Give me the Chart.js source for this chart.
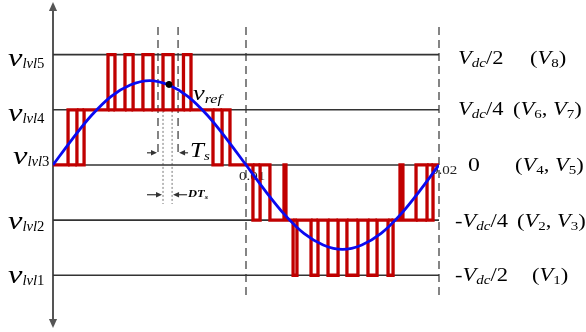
<!DOCTYPE html>
<html>
<head>
<meta charset="utf-8">
<script src="https://cdn.jsdelivr.net/npm/chart.js@4"></script>
<style>
  html, body { margin: 0; padding: 0; background: #fff; }
  #wrap { width: 586px; height: 332px; }
</style>
</head>
<body>
<div id="wrap"><canvas id="pwm" width="586" height="332"></canvas></div>
<script>
// voltage levels (in units of Vdc/4) and their labels
const levels = [-2, -1, 0, 1, 2];
const levelNames = ['1', '2', '3', '4', '5'];
const voltSign = ['-', '-', '', '', ''];
const voltDivisor = ['2', '4', '', '4', '2'];
const switchVectors = [[1], [2, 3], [4, 5], [6, 7], [8]];

// x axis ticks (s)
const xTickValues = [0.01, 0.02];
const xTickLabels = ['0.01', '0.02'];

// reference voltage v_ref
const vrefTime = [0, 0.001, 0.002, 0.003, 0.004, 0.005, 0.006, 0.007, 0.008, 0.009, 0.01,
                  0.011, 0.012, 0.013, 0.014, 0.015, 0.016, 0.017, 0.018, 0.019, 0.02];
const vrefValue = [0, 0.47, 0.90, 1.24, 1.45, 1.53, 1.45, 1.24, 0.90, 0.47, 0,
                   -0.47, -0.90, -1.24, -1.45, -1.53, -1.45, -1.24, -0.90, -0.47, 0];

// output voltage: switching instants and the level held after each one
const switchTimes = [0, 0.00078, 0.00124, 0.00161, 0.00285, 0.00321, 0.00373, 0.00415, 0.00466, 0.00518,
                     0.00570, 0.00622, 0.00676, 0.00715, 0.00829, 0.00876, 0.00917, 0.01036, 0.01073, 0.01124,
                     0.01197, 0.01207, 0.01244, 0.01264, 0.01337, 0.01373, 0.01425, 0.01477, 0.01523, 0.01580,
                     0.01632, 0.01679, 0.01736, 0.01762, 0.01798, 0.01813, 0.01881, 0.01938, 0.01969, 0.02];
const outputLevel = [0, 1, 0, 1, 2, 1, 2, 1, 2, 1,
                     2, 1, 2, 1, 0, 1, 0, -1, 0, -1,
                     0, -1, -2, -1, -2, -1, -2, -1, -2, -1,
                     -2, -1, -2, -1, 0, -1, 0, -1, 0];
// intervals drawn as closed boxes (edge at the previous level too)
const closedPulses = [1, 2, 4, 6, 8, 10, 12, 14, 17, 22, 24, 26, 28, 30, 32, 36, 37];

// switching period markers
const tsStart = 0.00544, tsEnd = 0.00648;
const dutyStart = 0.00570, dutyEnd = 0.00617;
const sampleTime = 0.00601, sampleValue = 1.46;

const RED = '#c00000';
const BLUE = '#0a0af0';
const FONT = '"Liberation Serif", "Times New Roman", serif';
const STRETCH = 1.25;

// step waveform points
const stepPts = [];
outputLevel.forEach((lv, i) => {
  stepPts.push({ x: switchTimes[i], y: lv });
  stepPts.push({ x: switchTimes[i + 1], y: lv });
});

// closing edges of the boxed pulses
const basePts = [];
closedPulses.forEach(i => {
  const base = outputLevel[i - 1];
  basePts.push({ x: switchTimes[i], y: base });
  basePts.push({ x: switchTimes[i + 1], y: base });
  basePts.push({ x: switchTimes[i + 1], y: null });
});

const levelSets = levels.map(lv => ({
  data: [{ x: 0, y: lv }, { x: 0.02, y: lv }],
  showLine: true, borderColor: '#333', borderWidth: 1.6, pointRadius: 0, order: 5
}));

// text made of runs with their own size, style and baseline shift
function rich(ctx, x, y, parts) {
  let cx = x;
  parts.forEach(p => {
    const sx = p.w || STRETCH;
    ctx.save();
    ctx.translate(cx, y + (p.dy || 0));
    ctx.scale(sx, 1);
    ctx.font = (p.b ? 'bold ' : '') + (p.i ? 'italic ' : '') + p.s + 'px ' + FONT;
    ctx.fillText(p.t, 0, 0);
    cx += ctx.measureText(p.t).width * sx;
    ctx.restore();
  });
}
const it = (t, s, dy, w) => ({ t, s, dy, w, i: true });
const up = (t, s, dy, w) => ({ t, s, dy, w });

function arrow(ctx, x0, y0, x1, y1, head) {
  const a = Math.atan2(y1 - y0, x1 - x0);
  ctx.beginPath();
  ctx.moveTo(x0, y0);
  ctx.lineTo(x1 - Math.cos(a) * head * 0.8, y1 - Math.sin(a) * head * 0.8);
  ctx.stroke();
  ctx.beginPath();
  ctx.moveTo(x1, y1);
  ctx.lineTo(x1 - head * Math.cos(a) + head * 0.45 * Math.sin(a), y1 - head * Math.sin(a) - head * 0.45 * Math.cos(a));
  ctx.lineTo(x1 - head * Math.cos(a) - head * 0.45 * Math.sin(a), y1 - head * Math.sin(a) + head * 0.45 * Math.cos(a));
  ctx.closePath();
  ctx.fill();
}

function vline(ctx, x, y0, y1, dash, color, width) {
  ctx.save();
  ctx.setLineDash(dash);
  ctx.strokeStyle = color;
  ctx.lineWidth = width;
  ctx.beginPath();
  ctx.moveTo(x, y0);
  ctx.lineTo(x, y1);
  ctx.stroke();
  ctx.restore();
}

const decor = {
  id: 'decor',
  beforeDatasetsDraw(chart) {
    const { ctx, scales: { x, y } } = chart;
    const ax = x.getPixelForValue(0);
    ctx.save();
    // vertical axis with arrows at both ends
    ctx.strokeStyle = '#555';
    ctx.fillStyle = '#555';
    ctx.lineWidth = 2;
    arrow(ctx, ax, 164, ax, 2, 9);
    arrow(ctx, ax, 164, ax, 328, 9);

    // guide lines
    vline(ctx, x.getPixelForValue(0.01), y.getPixelForValue(2.5), y.getPixelForValue(-2.42), [8, 5], '#444', 1.3);
    vline(ctx, x.getPixelForValue(0.02), y.getPixelForValue(2.5), y.getPixelForValue(-2.42), [8, 5], '#444', 1.3);
    vline(ctx, x.getPixelForValue(tsStart), y.getPixelForValue(2.5), y.getPixelForValue(0.16), [8, 5], '#444', 1.3);
    vline(ctx, x.getPixelForValue(tsEnd), y.getPixelForValue(2.5), y.getPixelForValue(0.16), [8, 5], '#444', 1.3);
    vline(ctx, x.getPixelForValue(dutyStart), y.getPixelForValue(0.98), y.getPixelForValue(-0.71), [2, 2], '#777', 1);
    vline(ctx, x.getPixelForValue(dutyEnd), y.getPixelForValue(0.98), y.getPixelForValue(-0.71), [2, 2], '#777', 1);

    // time ticks
    ctx.fillStyle = '#222';
    const tickDx = [-7, -8], tickDy = [15, 9];
    xTickValues.forEach((v, i) => {
      rich(ctx, x.getPixelForValue(v) + tickDx[i], y.getPixelForValue(0) + tickDy[i], [up(xTickLabels[i], 12)]);
    });
    ctx.restore();
  },
  afterDatasetsDraw(chart) {
    const { ctx, scales: { x, y } } = chart;
    ctx.save();
    ctx.fillStyle = '#000';

    // level names on the left
    const leftX = [8, 8, 13, 8, 8], leftDy = [8, 9, -1, 11, 11];
    levels.forEach((lv, i) => {
      rich(ctx, leftX[i], y.getPixelForValue(lv) + leftDy[i],
        [it('v', 26), it('lvl', 14, 2, 1.05), up(levelNames[i], 14, 2, 1.05)]);
    });

    // level voltages and switching vectors on the right
    const voltX = [455, 455, 468, 458, 458], vecX = [532, 517, 515, 513, 530];
    const rightDy = [6, 7, 6, 5, 9];
    levels.forEach((lv, i) => {
      const by = y.getPixelForValue(lv) + rightDy[i];
      if (voltDivisor[i] === '') {
        rich(ctx, voltX[i], by, [up('0', 19)]);
      } else {
        rich(ctx, voltX[i], by, [up(voltSign[i], 18), it('V', 18), it('dc', 12, 3), up('/' + voltDivisor[i], 18)]);
      }
      const parts = [up('(', 18)];
      switchVectors[i].forEach((n, j) => {
        parts.push(it('V', 18), up(String(n), 12, 3));
        if (j < switchVectors[i].length - 1) parts.push(up(', ', 18));
      });
      parts.push(up(')', 18));
      rich(ctx, vecX[i], by, parts);
    });

    // v_ref label
    rich(ctx, 193, 100, [it('v', 21), it('ref', 13, 3)]);

    // Ts and DTs arrows
    ctx.strokeStyle = '#333';
    ctx.fillStyle = '#333';
    ctx.lineWidth = 1.2;
    const ts0 = x.getPixelForValue(tsStart), ts1 = x.getPixelForValue(tsEnd);
    const d0 = x.getPixelForValue(dutyStart), d1 = x.getPixelForValue(dutyEnd);
    const yTs = y.getPixelForValue(0.22), yD = y.getPixelForValue(-0.54);
    arrow(ctx, ts0 - 11, yTs, ts0 - 1, yTs, 6);
    arrow(ctx, ts1 + 10, yTs, ts1 + 1, yTs, 6);
    arrow(ctx, d0 - 16, yD, d0 - 1, yD, 6);
    arrow(ctx, d1 + 15, yD, d1 + 1, yD, 6);

    ctx.fillStyle = '#000';
    rich(ctx, 190, 157, [it('T', 20), it('s', 12, 3)]);
    rich(ctx, 188, 197, [{ t: 'DT', s: 10, i: true, b: true }, { t: 's', s: 7, dy: 2, i: true, b: true }]);
    ctx.restore();
  }
};

new Chart(document.getElementById('pwm'), {
  type: 'scatter',
  data: {
    datasets: [
      { data: [{ x: sampleTime, y: sampleValue }], pointRadius: 3, backgroundColor: '#000', borderColor: '#000', order: 0 },
      {
        data: vrefTime.map((t, i) => ({ x: t, y: vrefValue[i] })),
        showLine: true, borderColor: BLUE, borderWidth: 2.8, pointRadius: 0,
        cubicInterpolationMode: 'monotone', order: 1
      },
      {
        data: stepPts, showLine: true, borderColor: RED, borderWidth: 3.3, pointRadius: 0,
        borderJoinStyle: 'miter', order: 2
      },
      {
        data: basePts, showLine: true, spanGaps: false, borderColor: RED, borderWidth: 3.3, pointRadius: 0,
        order: 3
      },
      ...levelSets
    ]
  },
  options: {
    responsive: false,
    animation: false,
    devicePixelRatio: 1,
    layout: { padding: { left: 53, right: 147, top: 3, bottom: 6 } },
    scales: {
      x: { type: 'linear', min: 0, max: 0.02, display: false },
      y: { type: 'linear', min: -2.92, max: 2.9, display: false }
    },
    plugins: { legend: { display: false }, tooltip: { enabled: false } }
  },
  plugins: [decor]
});
</script>
</body>
</html>
